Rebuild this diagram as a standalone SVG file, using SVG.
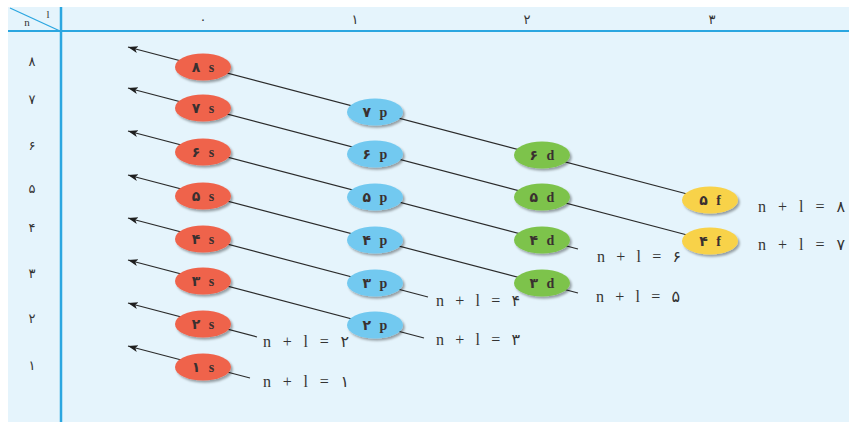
<svg xmlns="http://www.w3.org/2000/svg" width="849" height="422" viewBox="0 0 849 422">
<style>
.grid{stroke:#2ba6e0;fill:none}
.hd{font-family:"DejaVu Sans",sans-serif;font-size:13px;fill:#333;text-anchor:middle}
.ln{stroke:#2b2b2b;stroke-width:1.2;fill:none;marker-start:url(#arr)}
.s{fill:#ef634c}
.p{fill:#72c9f0}
.d{fill:#7dc34b}
.f{fill:#f8d24a}
.nd ellipse{filter:url(#sh)}
.nd text{font-family:"Liberation Serif","DejaVu Sans",serif;font-size:14px;font-weight:bold;fill:#3a3030;text-anchor:middle;word-spacing:5px}
.lab{font-family:"Liberation Serif","DejaVu Sans",serif;font-size:16px;fill:#333}
</style>
<defs>
<marker id="arr" markerUnits="userSpaceOnUse" markerWidth="12" markerHeight="8" refX="10" refY="3.5" orient="auto-start-reverse">
<path d="M0,0 L10,3.5 L0,7 L2.5,3.5 z" fill="#1e1e1e"/>
</marker>
<filter id="sh" x="-20%" y="-30%" width="150%" height="170%">
<feDropShadow dx="1.8" dy="2.2" stdDeviation="1.3" flood-color="#000" flood-opacity="0.35"/>
</filter>
</defs>
<rect x="8" y="7" width="841" height="415" fill="#e5f4fc"/>
<g id="grid">
<line class="grid" x1="8" y1="31" x2="849" y2="31" stroke-width="2"/>
<line class="grid" x1="61" y1="7" x2="61" y2="422" stroke-width="2.5"/>
<line class="grid" x1="10" y1="8" x2="60" y2="31" stroke-width="1.3"/>
<text x="27" y="26" font-family="Liberation Serif,serif" font-size="11" fill="#333" text-anchor="middle">n</text>
<text x="48" y="18" font-family="Liberation Serif,serif" font-size="11" fill="#333" text-anchor="middle">l</text>
<text class="hd" x="203" y="24">۰</text>
<text class="hd" x="355" y="24">۱</text>
<text class="hd" x="527" y="24">۲</text>
<text class="hd" x="712" y="24">۳</text>
<text class="hd" x="32" y="66">۸</text>
<text class="hd" x="32" y="104">۷</text>
<text class="hd" x="32" y="150">۶</text>
<text class="hd" x="32" y="193">۵</text>
<text class="hd" x="32" y="232">۴</text>
<text class="hd" x="32" y="278">۳</text>
<text class="hd" x="32" y="323">۲</text>
<text class="hd" x="32" y="370">۱</text>
</g>
<g id="connectors">
<line class="ln" x1="128" y1="47" x2="710" y2="200"/>
<line class="ln" x1="128" y1="88" x2="710" y2="241"/>
<line class="ln" x1="128" y1="131" x2="578" y2="249"/>
<line class="ln" x1="128" y1="175" x2="578" y2="293"/>
<line class="ln" x1="128" y1="218" x2="428" y2="297"/>
<line class="ln" x1="128" y1="260" x2="424" y2="338"/>
<line class="ln" x1="128" y1="303" x2="257" y2="337"/>
<line class="ln" x1="128" y1="346" x2="250" y2="378"/>
</g>
<g id="n8s" class="nd"><ellipse class="s" cx="203" cy="67" rx="28" ry="13.5"/><text x="203" y="71.5">۸ s</text></g>
<g id="n7s" class="nd"><ellipse class="s" cx="203" cy="108" rx="28" ry="13.5"/><text x="203" y="112.5">۷ s</text></g>
<g id="n6s" class="nd"><ellipse class="s" cx="203" cy="152" rx="28" ry="13.5"/><text x="203" y="156.5">۶ s</text></g>
<g id="n5s" class="nd"><ellipse class="s" cx="203" cy="196" rx="28" ry="13.5"/><text x="203" y="200.5">۵ s</text></g>
<g id="n4s" class="nd"><ellipse class="s" cx="203" cy="239" rx="28" ry="13.5"/><text x="203" y="243.5">۴ s</text></g>
<g id="n3s" class="nd"><ellipse class="s" cx="203" cy="281" rx="28" ry="13.5"/><text x="203" y="285.5">۳ s</text></g>
<g id="n2s" class="nd"><ellipse class="s" cx="203" cy="324" rx="28" ry="13.5"/><text x="203" y="328.5">۲ s</text></g>
<g id="n1s" class="nd"><ellipse class="s" cx="203" cy="367" rx="28" ry="13.5"/><text x="203" y="371.5">۱ s</text></g>
<g id="n7p" class="nd"><ellipse class="p" cx="375" cy="112" rx="28" ry="13.5"/><text x="375" y="116.5">۷ p</text></g>
<g id="n6p" class="nd"><ellipse class="p" cx="375" cy="154" rx="28" ry="13.5"/><text x="375" y="158.5">۶ p</text></g>
<g id="n5p" class="nd"><ellipse class="p" cx="375" cy="197" rx="28" ry="13.5"/><text x="375" y="201.5">۵ p</text></g>
<g id="n4p" class="nd"><ellipse class="p" cx="375" cy="240" rx="28" ry="13.5"/><text x="375" y="244.5">۴ p</text></g>
<g id="n3p" class="nd"><ellipse class="p" cx="375" cy="283" rx="28" ry="13.5"/><text x="375" y="287.5">۳ p</text></g>
<g id="n2p" class="nd"><ellipse class="p" cx="375" cy="325" rx="28" ry="13.5"/><text x="375" y="329.5">۲ p</text></g>
<g id="n6d" class="nd"><ellipse class="d" cx="542" cy="155" rx="28" ry="13.5"/><text x="542" y="159.5">۶ d</text></g>
<g id="n5d" class="nd"><ellipse class="d" cx="542" cy="197" rx="28" ry="13.5"/><text x="542" y="201.5">۵ d</text></g>
<g id="n4d" class="nd"><ellipse class="d" cx="542" cy="240" rx="28" ry="13.5"/><text x="542" y="244.5">۴ d</text></g>
<g id="n3d" class="nd"><ellipse class="d" cx="542" cy="283" rx="28" ry="13.5"/><text x="542" y="287.5">۳ d</text></g>
<g id="n5f" class="nd"><ellipse class="f" cx="710" cy="200" rx="28" ry="13.5"/><text x="710" y="204.5">۵ f</text></g>
<g id="n4f" class="nd"><ellipse class="f" cx="710" cy="241" rx="28" ry="13.5"/><text x="710" y="245.5">۴ f</text></g>
<g id="labels">
<text class="lab" x="758" y="212" textLength="87" lengthAdjust="spacing">n + l = ۸</text>
<text class="lab" x="758" y="250" textLength="87" lengthAdjust="spacing">n + l = ۷</text>
<text class="lab" x="597" y="262" textLength="84" lengthAdjust="spacing">n + l = ۶</text>
<text class="lab" x="596" y="302" textLength="84" lengthAdjust="spacing">n + l = ۵</text>
<text class="lab" x="436" y="306" textLength="84" lengthAdjust="spacing">n + l = ۴</text>
<text class="lab" x="436" y="345" textLength="84" lengthAdjust="spacing">n + l = ۳</text>
<text class="lab" x="263" y="347" textLength="86" lengthAdjust="spacing">n + l = ۲</text>
<text class="lab" x="263" y="387" textLength="86" lengthAdjust="spacing">n + l = ۱</text>
</g>
</svg>
